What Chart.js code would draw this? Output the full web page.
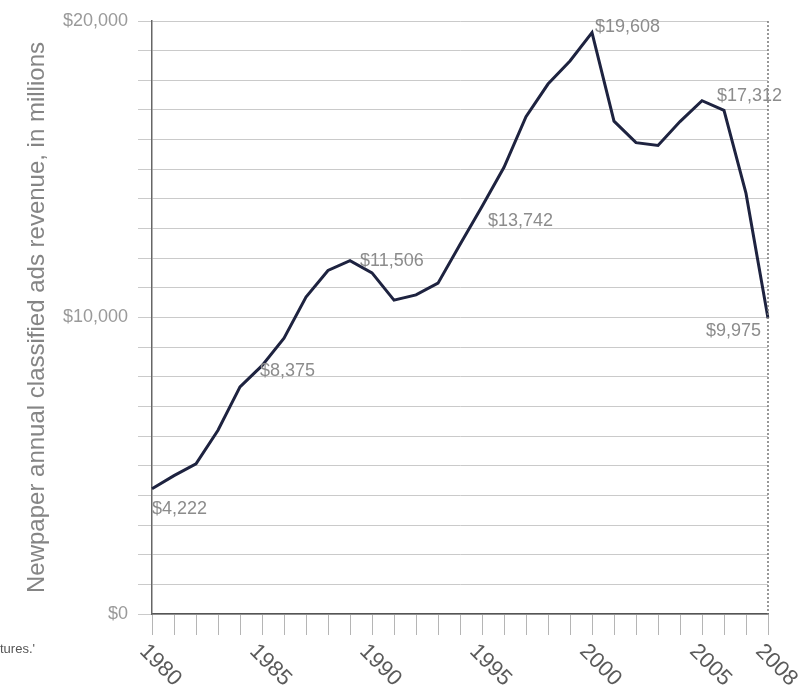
<!DOCTYPE html>
<html>
<head>
<meta charset="utf-8">
<script src="https://cdn.jsdelivr.net/npm/chart.js@4/dist/chart.umd.min.js"></script>
<style>
  html, body { margin: 0; padding: 0; background: #fff; }
  #wrap { width: 811px; height: 698px; }
</style>
</head>
<body>
<div id="wrap"><canvas id="adsChart" width="811" height="698"></canvas></div>
<script>
const years = ["1980", "1981", "1982", "1983", "1984", "1985", "1986", "1987", "1988", "1989",
  "1990", "1991", "1992", "1993", "1994", "1995", "1996", "1997", "1998", "1999",
  "2000", "2001", "2002", "2003", "2004", "2005", "2006", "2007", "2008"];
const revenue = [4222, 4666, 5064, 6197, 7658, 8375, 9303, 10691, 11586, 11916,
  11506, 10587, 10764, 11157, 12464, 13742, 15065, 16773, 17873, 18650,
  19608, 16622, 15898, 15801, 16608, 17312, 16986, 14186, 9975];
const shownYears = ["1980", "1985", "1990", "1995", "2000", "2005", "2008"];
const yTickLabels = [0, 10000, 20000];
const yTitle = "Newpaper annual classified ads revenue, in millions";
const cutText = "tures.'";

// where each value label sits relative to its point
const labelSpots = {
  "1980": { dx: 0, dy: 20, align: "left" },
  "1985": { dx: -2, dy: 5, align: "left" },
  "1990": { dx: -12, dy: -12, align: "left" },
  "1995": { dx: 6, dy: 14, align: "left" },
  "2000": { dx: 3, dy: -6, align: "left" },
  "2005": { dx: 15, dy: -5, align: "left" },
  "2008": { dx: -7, dy: 13, align: "right" },
};

function money(v) {
  return "$" + v.toLocaleString("en-US");
}

const extras = {
  id: "extras",
  afterDraw(chart) {
    const ctx = chart.ctx;
    const area = chart.chartArea;
    const xs = chart.scales.x;
    const ys = chart.scales.y;

    // dotted right edge
    ctx.save();
    ctx.strokeStyle = "#777";
    ctx.lineWidth = 1.5;
    ctx.setLineDash([2, 2]);
    ctx.beginPath();
    ctx.moveTo(area.right, area.top);
    ctx.lineTo(area.right, area.bottom);
    ctx.stroke();
    ctx.restore();

    // value labels
    ctx.save();
    ctx.font = "18px 'Liberation Sans', Arial, sans-serif";
    ctx.fillStyle = "#8c8c8c";
    ctx.textBaseline = "middle";
    years.forEach(function (yr, i) {
      const spot = labelSpots[yr];
      if (!spot) return;
      const px = xs.getPixelForValue(i);
      const py = ys.getPixelForValue(revenue[i]);
      ctx.textAlign = spot.align;
      ctx.fillText(money(revenue[i]), px + spot.dx, py + spot.dy);
    });
    ctx.restore();

    // rotated year labels
    ctx.save();
    ctx.font = "22px 'Liberation Sans', Arial, sans-serif";
    ctx.fillStyle = "#5a5a5a";
    ctx.textAlign = "left";
    ctx.textBaseline = "middle";
    years.forEach(function (yr, i) {
      if (shownYears.indexOf(yr) < 0) return;
      const px = xs.getPixelForTick(i);
      ctx.save();
      ctx.translate(px - 9, area.bottom + 34);
      ctx.rotate(Math.PI / 4);
      ctx.fillText(yr, 0, 0);
      ctx.restore();
    });
    ctx.restore();

    // clipped caption text at bottom left
    ctx.save();
    ctx.font = "13px 'Liberation Sans', Arial, sans-serif";
    ctx.fillStyle = "#555";
    ctx.textAlign = "left";
    ctx.textBaseline = "middle";
    ctx.fillText(cutText, 0, 649);
    ctx.restore();
  },
};

new Chart(document.getElementById("adsChart").getContext("2d"), {
  type: "line",
  data: {
    labels: years,
    datasets: [
      {
        label: "Classified ads revenue",
        data: revenue,
        borderColor: "#1e2340",
        borderWidth: 3,
        pointRadius: 0,
        tension: 0,
        fill: false,
      },
    ],
  },
  options: {
    responsive: false,
    animation: false,
    layout: { padding: { top: 21, right: 43, bottom: 0, left: 0 } },
    plugins: {
      legend: { display: false },
      tooltip: { enabled: false },
    },
    scales: {
      x: {
        grid: {
          drawOnChartArea: false,
          tickLength: 21,
          tickColor: "#b5b5b5",
        },
        border: { color: "#555", width: 1.5 },
        ticks: { display: false, autoSkip: false },
        afterFit: function (scale) {
          scale.height = 84;
        },
      },
      y: {
        min: 0,
        max: 20000,
        ticks: {
          stepSize: 1000,
          padding: 10,
          color: "#9a9a9a",
          font: { size: 18, family: "'Liberation Sans', Arial, sans-serif" },
          callback: function (v) {
            return yTickLabels.indexOf(v) >= 0 ? money(v) : "";
          },
        },
        grid: {
          color: "#cacaca",
          lineWidth: 1,
          tickLength: 14,
        },
        border: { color: "#666", width: 1.5 },
        title: {
          display: true,
          text: yTitle,
          color: "#858585",
          font: { size: 24, family: "'Liberation Sans', Arial, sans-serif" },
          padding: { top: 23, bottom: 0 },
        },
        afterFit: function (scale) {
          scale.width = 152;
        },
      },
    },
  },
  plugins: [extras],
});
</script>
</body>
</html>
